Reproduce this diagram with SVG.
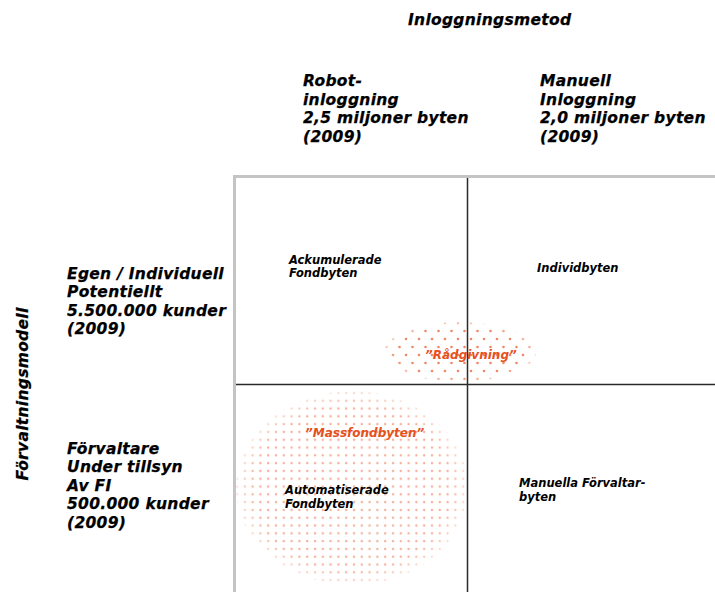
<svg xmlns="http://www.w3.org/2000/svg" width="715" height="592" viewBox="0 0 715 592">
<style>
.h{font-family:"DejaVu Sans","Liberation Sans",sans-serif;font-weight:bold;font-style:italic;font-size:15.5px;letter-spacing:0.3px;fill:#000;stroke:#000;stroke-width:0.25}
.c{font-family:"DejaVu Sans","Liberation Sans",sans-serif;font-weight:bold;font-style:italic;font-size:11.5px;fill:#000}
.o{font-family:"DejaVu Sans","Liberation Sans",sans-serif;font-weight:bold;font-style:italic;font-size:12px;fill:#e5501c}
.grid{stroke:#2a2a2a;stroke-width:1.5;fill:none}
.frame{stroke:#c4c4c4;stroke-width:3;fill:none}
</style>
<defs>
<pattern id="dotsA" width="13" height="16" patternUnits="userSpaceOnUse">
<circle cx="3" cy="3" r="1.3" fill="#ec6a40" opacity="0.8"/>
<circle cx="9.5" cy="11" r="1.3" fill="#ec6a40" opacity="0.8"/>
</pattern>
<pattern id="dotsB" width="7.8" height="7.8" patternUnits="userSpaceOnUse">
<circle cx="3" cy="3" r="1.2" fill="#ee7a52" opacity="0.6"/>
</pattern>
<radialGradient id="fade" cx="0.5" cy="0.5" r="0.5">
<stop offset="0.85" stop-color="#fff"/>
<stop offset="1" stop-color="#fff" stop-opacity="0.35"/>
</radialGradient>
<mask id="mA" maskContentUnits="userSpaceOnUse"><ellipse cx="460" cy="352" rx="76" ry="30" fill="url(#fade)"/></mask>
<mask id="mB" maskContentUnits="userSpaceOnUse"><ellipse cx="352" cy="488" rx="116" ry="97" fill="url(#fade)"/></mask>
</defs>
<rect width="715" height="592" fill="#fff"/>

<g id="header-top">
<text class="h" x="408" y="25">Inloggningsmetod</text>
</g>
<g id="col-robot">
<text class="h" x="303" y="86">Robot-</text>
<text class="h" x="303" y="105">inloggning</text>
<text class="h" x="303" y="123">2,5 miljoner byten</text>
<text class="h" x="303" y="142">(2009)</text>
</g>
<g id="col-manuell">
<text class="h" x="540" y="86">Manuell</text>
<text class="h" x="540" y="105">Inloggning</text>
<text class="h" x="540" y="123">2,0 miljoner byten</text>
<text class="h" x="540" y="142">(2009)</text>
</g>
<g id="header-left">
<text class="h" transform="translate(28,394) rotate(-90)" text-anchor="middle">Förvaltningsmodell</text>
</g>
<g id="row-egen">
<text class="h" x="67" y="279">Egen / Individuell</text>
<text class="h" x="67" y="297">Potentiellt</text>
<text class="h" x="67" y="316">5.500.000 kunder</text>
<text class="h" x="67" y="334">(2009)</text>
</g>
<g id="row-forvaltare">
<text class="h" x="67" y="454">Förvaltare</text>
<text class="h" x="67" y="472">Under tillsyn</text>
<text class="h" x="67" y="491">Av FI</text>
<text class="h" x="67" y="509">500.000 kunder</text>
<text class="h" x="67" y="528">(2009)</text>
</g>

<g id="ellipse-massfond">
<rect x="230" y="385" width="240" height="205" fill="url(#dotsB)" mask="url(#mB)"/>
</g>
<g id="ellipse-radgivning">
<rect x="380" y="318" width="160" height="66" fill="url(#dotsA)" mask="url(#mA)"/>
</g>

<g id="connectors">
<path class="frame" d="M234.5 592 V176.5 H715"/>
<line class="grid" x1="467.5" y1="178" x2="467.5" y2="592"/>
<line class="grid" x1="236" y1="384.5" x2="715" y2="384.5"/>
</g>

<g id="cell-ackumulerade">
<text class="c" x="289" y="264">Ackumulerade</text>
<text class="c" x="289" y="277">Fondbyten</text>
</g>
<g id="cell-individ">
<text class="c" x="537" y="272">Individbyten</text>
</g>
<g id="cell-automatiserade">
<text class="c" x="285" y="494">Automatiserade</text>
<text class="c" x="285" y="508">Fondbyten</text>
</g>
<g id="cell-manuella">
<text class="c" x="519" y="487">Manuella Förvaltar-</text>
<text class="c" x="519" y="501">byten</text>
</g>
<g id="label-radgivning">
<text class="o" x="425" y="359">”Rådgivning”</text>
</g>
<g id="label-massfond">
<text class="o" x="305" y="437">”Massfondbyten”</text>
</g>
</svg>
